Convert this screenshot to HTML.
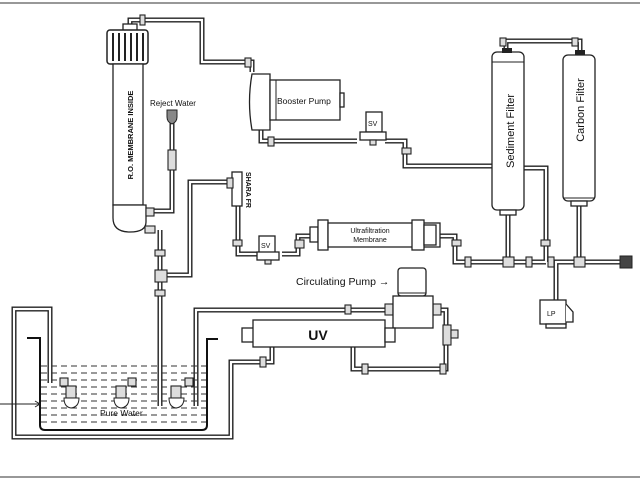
<!DOCTYPE html>
<html><head><meta charset="utf-8"><style>
html,body{margin:0;padding:0;background:#fff;width:640px;height:480px;overflow:hidden}
svg{display:block}
text{font-family:"Liberation Sans",sans-serif;fill:#111}
.po{fill:none;stroke:#222;stroke-width:5;stroke-linejoin:miter}
.pi{fill:none;stroke:#fff;stroke-width:2.2;stroke-linejoin:miter}
.s{fill:#fff;stroke:#222;stroke-width:1.3}
.f{fill:#ddd;stroke:#222;stroke-width:1.1}
</style></head><body>
<svg width="640" height="480" viewBox="0 0 640 480" xmlns="http://www.w3.org/2000/svg">
<line x1="0" y1="3" x2="640" y2="3" stroke="#777" stroke-width="1.5"/>
<line x1="0" y1="477" x2="640" y2="477" stroke="#777" stroke-width="1.5"/>

<g>
<path class="po" d="M130 28 V20 H202 V62 H252 V72"/>
<path class="po" d="M261 130 V141 H357 M385 141 H405 V166 H496"/>
<path class="po" d="M520 168 H546 V262 M436 236 H455 V262 H546"/>
<path class="po" d="M508 210 V262 M506 52 V41 H580 V54 M579 200 V262 M556 300 V262 H624"/>
<path class="po" d="M172 120 V211 H150"/>
<path class="po" d="M160 230 V406 M160 275 H190 V182 H232"/>
<path class="po" d="M238 205 V254 H258 M282 254 H298 V236 H315"/>
<path class="po" d="M196 406 V310 H392 M433 310 H446 V369 H353 V347"/>
<path class="po" d="M272 347 V362 H231 V437 H14 V309 H50 V383"/>
</g>
<g>
<path class="pi" d="M130 28 V20 H202 V62 H252 V72"/>
<path class="pi" d="M261 130 V141 H357 M385 141 H405 V166 H496"/>
<path class="pi" d="M520 168 H546 V262 M436 236 H455 V262 H546"/>
<path class="pi" d="M508 210 V262 M506 52 V41 H580 V54 M579 200 V262 M556 300 V262 H624"/>
<path class="pi" d="M172 120 V211 H150"/>
<path class="pi" d="M160 230 V406 M160 275 H190 V182 H232"/>
<path class="pi" d="M238 205 V254 H258 M282 254 H298 V236 H315"/>
<path class="pi" d="M196 406 V310 H392 M433 310 H446 V369 H353 V347"/>
<path class="pi" d="M272 347 V362 H231 V437 H14 V309 H50 V383"/>
</g>

<g class="f">
<rect x="140" y="15" width="5" height="10"/><rect x="245" y="58" width="6" height="9"/>
<rect x="268" y="137" width="6" height="9"/><rect x="402" y="148" width="9" height="6"/>
<rect x="500" y="38" width="6" height="8"/><rect x="572" y="38" width="6" height="8"/>
<rect x="503" y="257" width="11" height="10"/><rect x="574" y="257" width="11" height="10"/>
<rect x="526" y="257" width="6" height="10"/><rect x="541" y="240" width="9" height="6"/>
<rect x="452" y="240" width="9" height="6"/><rect x="465" y="257" width="6" height="10"/>
<rect x="548" y="257" width="6" height="10"/>
<rect x="155" y="250" width="10" height="6"/><rect x="155" y="270" width="12" height="12"/><rect x="155" y="290" width="10" height="6"/>
<rect x="168" y="150" width="8" height="20"/><rect x="295" y="240" width="9" height="8"/><rect x="233" y="240" width="9" height="6"/>
<rect x="345" y="305" width="6" height="9"/><rect x="385" y="304" width="8" height="11"/>
<rect x="443" y="325" width="8" height="20"/><rect x="451" y="330" width="7" height="8"/>
<rect x="433" y="304" width="8" height="11"/><rect x="260" y="357" width="6" height="10"/><rect x="362" y="364" width="6" height="10"/>
<rect x="440" y="364" width="6" height="10"/>
</g>

<rect class="s" x="123" y="24" width="14" height="7"/>
<rect x="107" y="30" width="41" height="34" rx="3" fill="#fff" stroke="#222" stroke-width="1.5"/>
<g stroke="#222" stroke-width="2"><line x1="113" y1="33" x2="113" y2="61"/><line x1="119" y1="33" x2="119" y2="61"/><line x1="125" y1="33" x2="125" y2="61"/><line x1="131" y1="33" x2="131" y2="61"/><line x1="137" y1="33" x2="137" y2="61"/><line x1="143" y1="33" x2="143" y2="61"/></g>
<path class="s" d="M113 64 V205 H143 V64 Z"/>
<path class="s" d="M113 205 H146 V222 Q146 232 130 232 Q113 232 113 218 Z"/>
<rect class="f" x="146" y="208" width="8" height="8"/>
<rect class="f" x="145" y="226" width="10" height="7"/>
<text transform="translate(133 135) rotate(-90)" font-size="7.5" font-weight="bold" text-anchor="middle">R.O. MEMBRANE INSIDE</text>

<text x="150" y="106" font-size="8">Reject Water</text>
<path d="M167 110 H177 V117 Q177 122 172 124 Q167 122 167 117 Z" fill="#888" stroke="#222"/>

<path class="s" d="M252 74 H270 V130 H252 Q247 102 252 74 Z"/>
<rect class="s" x="270" y="80" width="70" height="40"/>
<line x1="276" y1="80" x2="276" y2="120" stroke="#222"/>
<rect class="s" x="340" y="93" width="4" height="14"/>
<text x="277" y="104" font-size="8.5">Booster Pump</text>

<rect class="s" x="366" y="112" width="16" height="20"/>
<text x="368" y="126" font-size="7">SV</text>
<rect class="s" x="360" y="132" width="26" height="8"/>
<rect class="f" x="370" y="140" width="6" height="5"/>

<rect class="s" x="492" y="52" width="32" height="158" rx="5"/>
<line x1="492" y1="62" x2="524" y2="62" stroke="#222"/>
<rect x="502" y="48" width="10" height="5" fill="#222"/>
<rect class="s" x="500" y="210" width="16" height="5"/>
<text transform="translate(514 131) rotate(-90)" font-size="11" text-anchor="middle">Sediment Filter</text>
<rect class="s" x="563" y="55" width="32" height="146" rx="5"/>
<line x1="563" y1="198" x2="595" y2="198" stroke="#222"/>
<rect x="575" y="50" width="10" height="5" fill="#222"/>
<rect class="s" x="571" y="201" width="16" height="5"/>
<text transform="translate(584 110) rotate(-90)" font-size="11" text-anchor="middle">Carbon Filter</text>
<rect x="620" y="256" width="12" height="12" fill="#444" stroke="#222"/>
<rect class="s" x="540" y="300" width="26" height="24"/>
<path class="s" d="M566 304 L573 312 V322 H566"/>
<rect class="s" x="546" y="324" width="20" height="4"/>
<text x="547" y="316" font-size="7">LP</text>

<rect class="s" x="232" y="172" width="10" height="34"/>
<rect class="f" x="227" y="178" width="6" height="10"/>
<text transform="translate(246 172) rotate(90)" font-size="7" font-weight="bold">SHARA FR</text>

<rect class="s" x="259" y="236" width="16" height="17"/>
<text x="261" y="248" font-size="7">SV</text>
<rect class="s" x="257" y="252" width="22" height="8"/>
<rect class="f" x="265" y="260" width="6" height="4"/>

<rect class="s" x="310" y="227" width="8" height="15"/>
<rect class="s" x="318" y="220" width="10" height="30"/>
<rect class="s" x="328" y="223" width="112" height="24"/>
<rect class="s" x="412" y="220" width="12" height="30"/>
<rect class="s" x="424" y="225" width="12" height="20"/>
<text x="370" y="233" font-size="7" text-anchor="middle">Ultrafiltration</text>
<text x="370" y="242" font-size="7" text-anchor="middle">Membrane</text>

<text x="296" y="285" font-size="10.5">Circulating Pump →</text>
<rect class="s" x="398" y="268" width="28" height="28" rx="3"/>
<line x1="398" y1="293" x2="426" y2="293" stroke="#222"/>
<rect class="s" x="393" y="296" width="40" height="32"/>

<rect class="s" x="242" y="328" width="12" height="14"/>
<rect class="s" x="253" y="320" width="132" height="27"/>
<rect class="s" x="385" y="328" width="10" height="14"/>
<text x="318" y="340" font-size="14" font-weight="bold" text-anchor="middle">UV</text>

<path d="M27 338 H40 V425 Q40 430 45 430 H202 Q207 430 207 425 V339 H218" fill="none" stroke="#111" stroke-width="2"/>
<g stroke="#333" stroke-width="1" stroke-dasharray="6 4">
<line x1="41" y1="366" x2="206" y2="366"/><line x1="41" y1="373" x2="206" y2="373"/><line x1="41" y1="380" x2="206" y2="380"/>
<line x1="41" y1="387" x2="206" y2="387"/><line x1="41" y1="394" x2="206" y2="394"/><line x1="41" y1="401" x2="206" y2="401"/>
<line x1="41" y1="408" x2="206" y2="408"/><line x1="41" y1="415" x2="206" y2="415"/><line x1="41" y1="422" x2="206" y2="422"/>
</g>
<g>
<rect class="f" x="60" y="378" width="8" height="8"/><rect class="f" x="66" y="386" width="10" height="12"/>
<path d="M64 398 H79 Q79 407 71 408 Q64 407 64 398Z" fill="#fff" stroke="#222"/>
<rect class="f" x="128" y="378" width="8" height="8"/><rect class="f" x="116" y="386" width="10" height="12"/>
<path d="M114 398 H129 Q129 407 121 408 Q114 407 114 398Z" fill="#fff" stroke="#222"/>
<rect class="f" x="185" y="378" width="8" height="8"/><rect class="f" x="171" y="386" width="10" height="12"/>
<path d="M169 398 H184 Q184 407 176 408 Q169 407 169 398Z" fill="#fff" stroke="#222"/>
</g>
<text x="100" y="416" font-size="8.5">Pure Water</text>
<line x1="0" y1="404" x2="40" y2="404" stroke="#222"/>
<path d="M35 401 L40 404 L35 407" fill="none" stroke="#222"/>
</svg>
</body></html>
